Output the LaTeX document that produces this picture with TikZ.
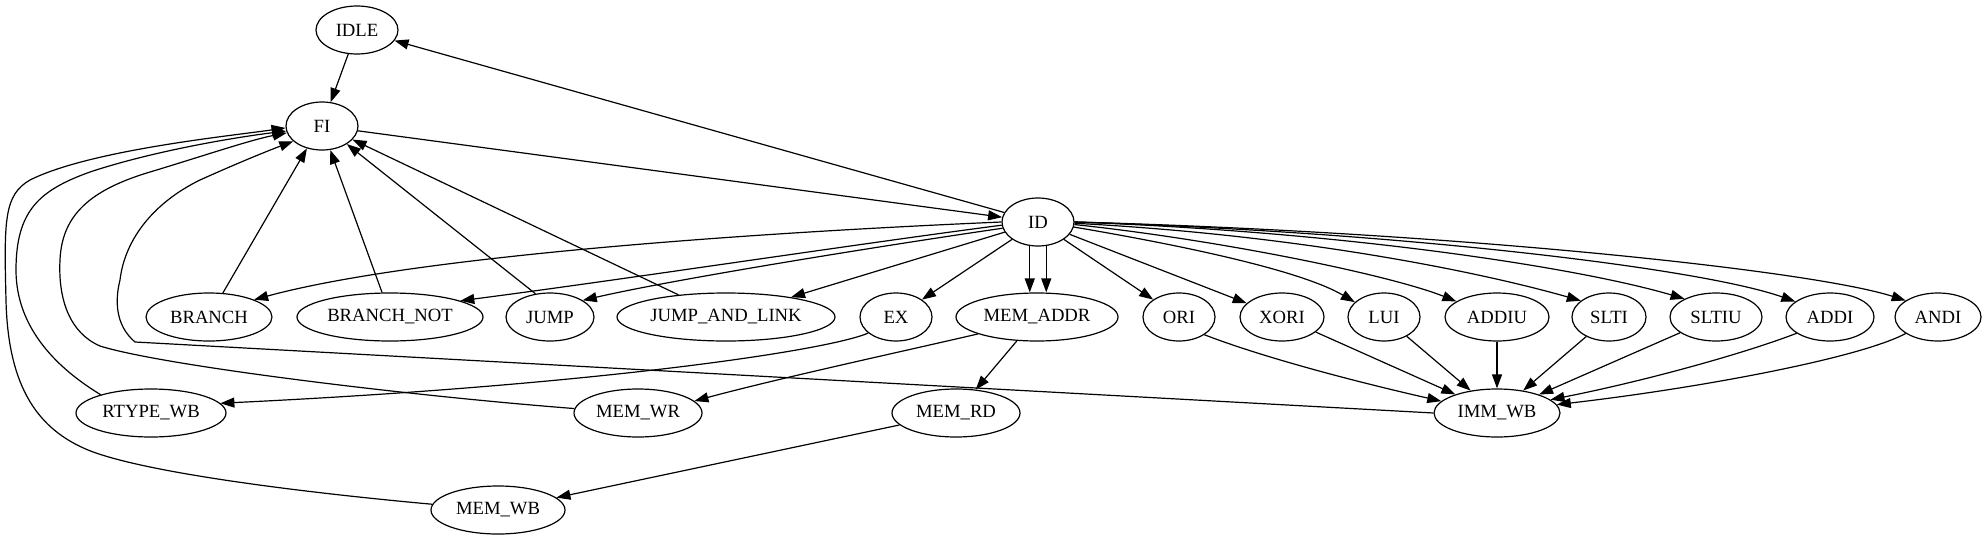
\documentclass[tikz,border=0pt]{standalone}
\usepackage{fontspec}
\setmainfont{Liberation Serif}
\usetikzlibrary{shapes.geometric,arrows.meta}
\begin{document}
\begin{tikzpicture}[x=0.75pt,y=-0.75pt,
  st/.style={ellipse,draw,line width=0.9pt,minimum height=36pt,inner sep=0pt,font=\fontsize{14pt}{16pt}\selectfont},
  ar/.style={line width=0.9pt,-{Triangle[length=10.5pt,width=7.5pt]}}]
\useasboundingbox (0,0) rectangle (1987,539);
% rank 0-2
\node[st,minimum width=61.5pt] (IDLE) at (357,30) {IDLE};
\node[st,minimum width=54pt] (FI) at (322,126) {FI};
\node[st,minimum width=54pt] (ID) at (1038,222) {ID};
% rank 3
\node[st,minimum width=94.5pt] (BRANCH) at (209,317) {BRANCH};
\node[st,minimum width=139.5pt] (BRANCH_NOT) at (390,317) {BRANCH\_NOT};
\node[st,minimum width=66pt] (JUMP) at (550,317) {JUMP};
\node[st,minimum width=163.5pt] (JAL) at (726,317) {JUMP\_AND\_LINK};
\node[st,minimum width=54pt] (EX) at (896,317) {EX};
\node[st,minimum width=121.5pt] (MEM_ADDR) at (1037,317) {MEM\_ADDR};
\node[st,minimum width=54pt] (ORI) at (1179,317) {ORI};
\node[st,minimum width=63pt] (XORI) at (1282,317) {XORI};
\node[st,minimum width=54pt] (LUI) at (1384,317) {LUI};
\node[st,minimum width=78pt] (ADDIU) at (1497,317) {ADDIU};
\node[st,minimum width=55.5pt] (SLTI) at (1609,317) {SLTI};
\node[st,minimum width=69pt] (SLTIU) at (1716,317) {SLTIU};
\node[st,minimum width=66pt] (ADDI) at (1830,317) {ADDI};
\node[st,minimum width=64.5pt] (ANDI) at (1938,317) {ANDI};
% rank 4
\node[st,minimum width=112.5pt] (RTYPE_WB) at (151,413) {RTYPE\_WB};
\node[st,minimum width=96pt] (MEM_WR) at (638,413) {MEM\_WR};
\node[st,minimum width=96pt] (MEM_RD) at (956,413) {MEM\_RD};
\node[st,minimum width=94.5pt] (IMM_WB) at (1497,413) {IMM\_WB};
% rank 5
\node[st,minimum width=100.5pt] (MEM_WB) at (498,510) {MEM\_WB};

% top edges
\draw[ar] (IDLE) -- (FI);
\draw[ar] (FI) -- (ID);
\draw[ar] (ID) -- (IDLE);

% ID to children
\draw[ar] (ID.180) .. controls (700,235) and (400,260) .. (BRANCH.21);
\draw[ar] (ID.185) .. controls (850,245) and (620,280) .. (BRANCH_NOT.13);
\draw[ar] (ID.190) .. controls (900,243) and (680,278) .. (JUMP.27);
\draw[ar] (ID) -- (JAL);
\draw[ar] (ID) -- (EX);
\draw[ar] (ID.-109) -- (ID.-109 |- MEM_ADDR.north);
\draw[ar] (ID.-71) -- (ID.-71 |- MEM_ADDR.north);
\draw[ar] (ID) -- (ORI);
\draw[ar] (ID) -- (XORI);
\draw[ar] (ID.-8) .. controls (1180,245) and (1300,270) .. (LUI.153);
\draw[ar] (ID.-4) .. controls (1220,240) and (1390,275) .. (ADDIU.159);
\draw[ar] (ID.-2) .. controls (1300,235) and (1480,272) .. (SLTI.150);
\draw[ar] (ID.0) .. controls (1350,232) and (1580,268) .. (SLTIU.150);
\draw[ar] (ID.0) .. controls (1400,232) and (1700,268) .. (ADDI.156);
\draw[ar] (ID.0) .. controls (1450,232) and (1810,270) .. (ANDI.153);

% back to FI
\draw[ar] (BRANCH.60) -- (FI.236);
\draw[ar] (BRANCH_NOT.108) -- (FI.289);
\draw[ar] (JUMP.122) -- (FI.324);
\draw[ar] (JAL.155) -- (FI.336);

% EX, MEM
\draw[ar] (EX.210) .. controls (830,350) and (600,385) .. (RTYPE_WB.8);
\draw[ar] (MEM_ADDR.196) .. controls (900,352) and (780,378) .. (MEM_WR.12);
\draw[ar] (MEM_ADDR) -- (MEM_RD);
\draw[ar] (MEM_RD) -- (MEM_WB);

% immediates to IMM_WB
\draw[ar] (ORI.-35) .. controls (1270,360) and (1370,385) .. (IMM_WB.168);
\draw[ar] (XORI) -- (IMM_WB);
\draw[ar] (LUI) -- (IMM_WB);
\draw[ar] (ADDIU) -- (IMM_WB);
\draw[ar] (SLTI) -- (IMM_WB);
\draw[ar] (SLTIU) -- (IMM_WB);
\draw[ar] (ADDI.206) .. controls (1740,355) and (1640,382) .. (IMM_WB.14);
\draw[ar] (ANDI.207) .. controls (1860,358) and (1700,388) .. (IMM_WB.8);

% long curves to FI
\draw[ar] (MEM_WB.175) .. controls (330,495) and (150,475) .. (88,450)
  .. controls (40,430) and (8,390) .. (6,300)
  .. controls (4,220) and (4,195) .. (30,180)
  .. controls (90,150) and (230,136) .. (FI.183);
\draw[ar] (RTYPE_WB.160) .. controls (60,370) and (16,330) .. (16,270)
  .. controls (16,210) and (40,190) .. (90,172)
  .. controls (150,152) and (230,138) .. (FI.188);
\draw[ar] (MEM_WR.176) .. controls (400,395) and (160,365) .. (100,346)
  .. controls (70,333) and (58,300) .. (60,260)
  .. controls (62,215) and (90,190) .. (150,172)
  .. controls (200,157) and (250,140) .. (FI.191);
\draw[ar] (IMM_WB.west) -- (135,342)
  .. controls (115,325) and (115,300) .. (120,280)
  .. controls (125,238) and (155,202) .. (200,180)
  .. controls (240,162) and (270,150) .. (FI.208);
\end{tikzpicture}
\end{document}
